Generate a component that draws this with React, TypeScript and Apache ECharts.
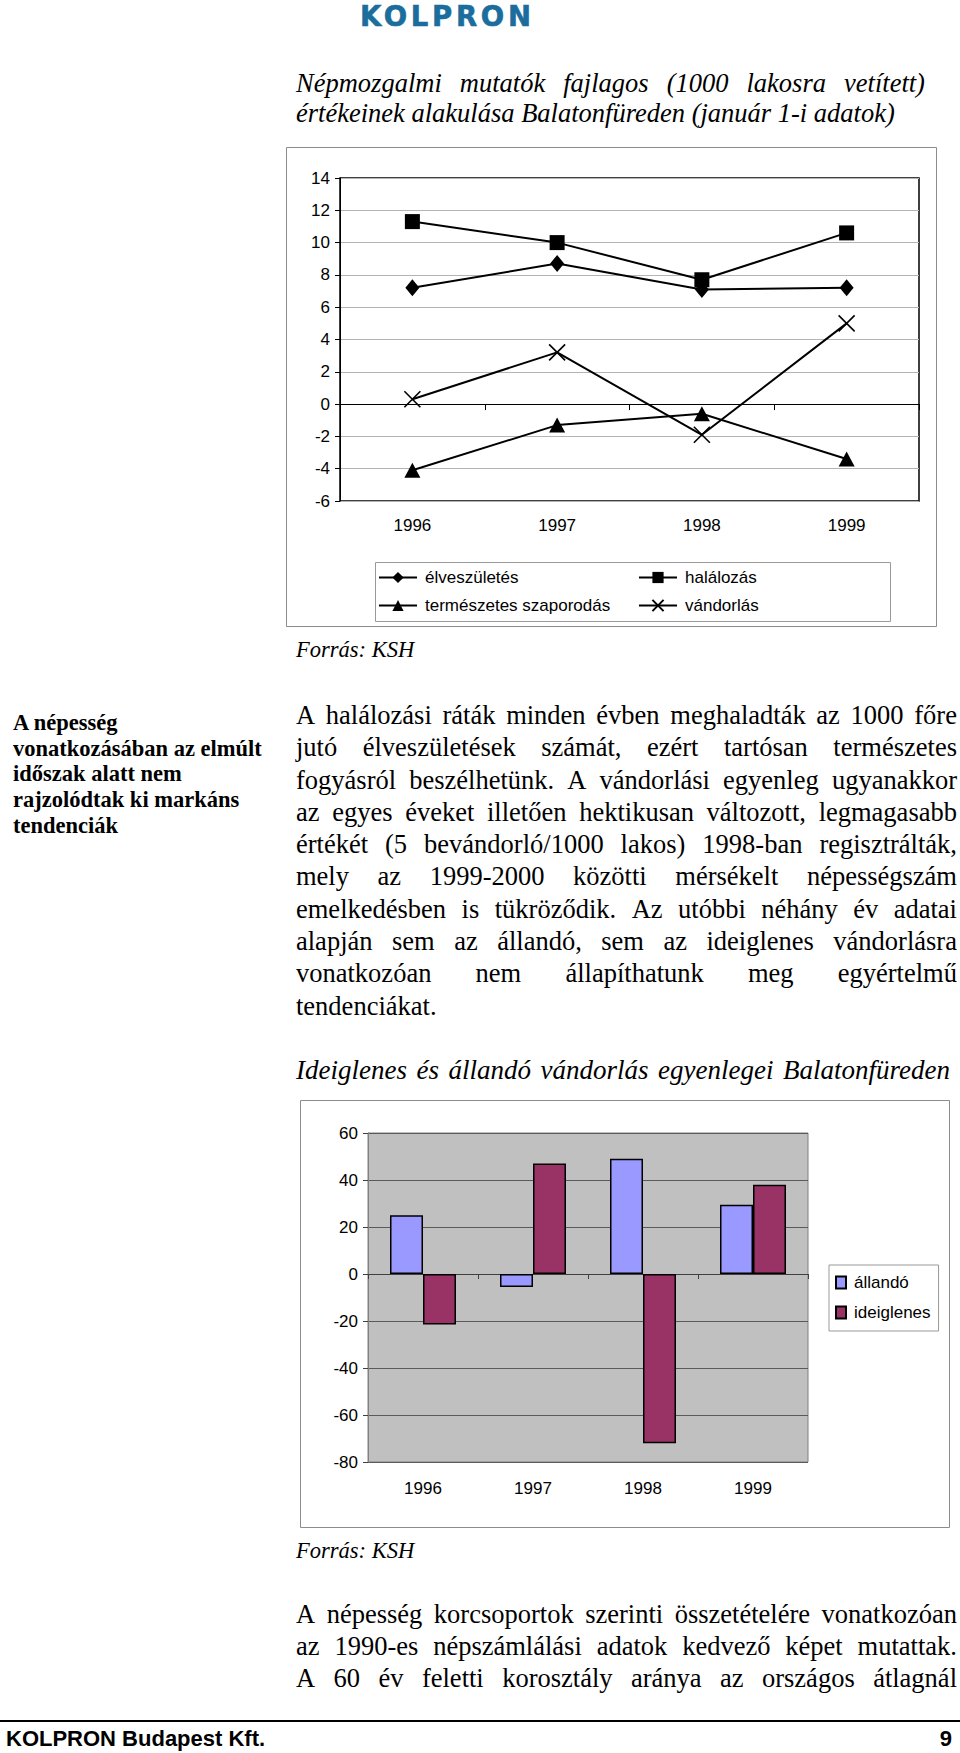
import React, { useEffect, useRef } from 'react';
import * as echarts from 'echarts';

// ---------- data ----------
const years = ['1996', '1997', '1998', '1999'];
const elveszuletes = [7.2, 8.7, 7.1, 7.2];
const halalozas = [11.3, 10.0, 7.7, 10.6];
const termeszetesSzaporodas = [-4.1, -1.3, -0.6, -3.4];
const vandorlas = [0.3, 3.2, -1.9, 5.0];
const lineYMin = -6;
const lineYMax = 14;
const lineYStep = 2;

const allando = [25, -5.5, 49, 29.5];
const ideiglenes = [-21.5, 47, -72, 38];
const barYMin = -80;
const barYMax = 60;
const barYStep = 20;

// ---------- texts ----------
const logoText = 'KOLPRON';
const title1Lines = [
  'Népmozgalmi mutatók fajlagos (1000 lakosra vetített)',
  'értékeinek alakulása Balatonfüreden (január 1-i adatok)',
];
const sourceText = 'Forrás: KSH';
const sideLines = [
  'A népesség',
  'vonatkozásában az elmúlt',
  'időszak alatt nem',
  'rajzolódtak ki markáns',
  'tendenciák',
];
const paraLines = [
  'A halálozási ráták minden évben meghaladták az 1000 főre',
  'jutó élveszületések számát, ezért tartósan természetes',
  'fogyásról beszélhetünk. A vándorlási egyenleg ugyanakkor',
  'az egyes éveket illetően hektikusan változott, legmagasabb',
  'értékét (5 bevándorló/1000 lakos) 1998-ban regisztrálták,',
  'mely az 1999-2000 közötti mérsékelt népességszám',
  'emelkedésben is tükröződik. Az utóbbi néhány év adatai',
  'alapján sem az állandó, sem az ideiglenes vándorlásra',
  'vonatkozóan nem állapíthatunk meg egyértelmű',
  'tendenciákat.',
];
const title2 = 'Ideiglenes és állandó vándorlás egyenlegei Balatonfüreden';
const bottomLines = [
  'A népesség korcsoportok szerinti összetételére vonatkozóan',
  'az 1990-es népszámlálási adatok kedvező képet mutattak.',
  'A 60 év feletti korosztály aránya az országos átlagnál',
];
const footerText = 'KOLPRON Budapest Kft.';
const pageNumber = '9';

const SERIF = '"Liberation Serif", "Times New Roman", serif';
const SANS = '"Liberation Sans", Arial, sans-serif';

function EChart({ option, style }: { option: any; style: React.CSSProperties }) {
  const ref = useRef<HTMLDivElement>(null);
  useEffect(() => {
    const chart = echarts.init(ref.current!, null, { renderer: 'svg' });
    chart.setOption(option);
    return () => chart.dispose();
  }, []);
  return <div ref={ref} style={style} />;
}

function TextBlock({
  lines, left, top, width, fontSize, lineHeight, justifyAll, justifyExceptLast, style,
}: any) {
  return (
    <div style={{ position: 'absolute', left, top, width, fontSize, lineHeight: lineHeight + 'px', fontFamily: SERIF, color: '#000', ...style }}>
      {lines.map((t: string, i: number) => {
        const j = justifyAll || (justifyExceptLast && i < lines.length - 1);
        if (!j) return <div key={i} style={{ height: lineHeight, whiteSpace: 'pre' }}>{t}</div>;
        return (
          <div key={i} style={{ height: lineHeight, display: 'flex', justifyContent: 'space-between', whiteSpace: 'pre' }}>
            {t.split(' ').map((w, k) => <span key={k}>{w}</span>)}
          </div>
        );
      })}
    </div>
  );
}

const axisFont = { fontSize: 17, color: '#000', fontFamily: SANS };

const C1W = 651, C1H = 480;
const lineOption = {
  animation: false,
  graphic: [
    { type: 'rect', shape: { x: 0.5, y: 0.5, width: C1W - 1, height: C1H - 1 }, style: { fill: 'none', stroke: '#8c8c8c', lineWidth: 1 } },
    { type: 'rect', shape: { x: 89.5, y: 415.5, width: 515, height: 59 }, style: { fill: 'none', stroke: '#999', lineWidth: 1 } },
  ],
  grid: { left: 54, right: 18, top: 31, bottom: 126, show: true, borderColor: '#000', borderWidth: 1.5, backgroundColor: '#fff' },
  xAxis: [
    {
      type: 'category', data: years, position: 'bottom',
      axisLine: { onZero: true, lineStyle: { color: '#000', width: 1 } },
      axisTick: { show: true, length: 6, lineStyle: { color: '#000' } },
      axisLabel: { show: false },
    },
    {
      type: 'category', data: years, position: 'bottom',
      axisLine: { show: false, onZero: false },
      axisTick: { show: false },
      axisLabel: { ...axisFont, margin: 16 },
    },
  ],
  yAxis: {
    type: 'value', min: lineYMin, max: lineYMax, interval: lineYStep,
    axisLine: { show: true, lineStyle: { color: '#000' } },
    axisTick: { show: true, length: 5, lineStyle: { color: '#000' } },
    axisLabel: { ...axisFont, margin: 10 },
    splitLine: { lineStyle: { color: '#b4b4b4', width: 1 } },
  },
  legend: [
    {
      data: ['élveszületés', 'természetes szaporodás'], orient: 'vertical', left: 92, top: 422,
      itemWidth: 38, itemHeight: 14, itemGap: 11, padding: 0, selectedMode: false,
      textStyle: { ...axisFont, padding: [0, 0, 0, 3] },
    },
    {
      data: ['halálozás', 'vándorlás'], orient: 'vertical', left: 352, top: 422,
      itemWidth: 38, itemHeight: 14, itemGap: 11, padding: 0, selectedMode: false,
      textStyle: { ...axisFont, padding: [0, 0, 0, 3] },
    },
  ],
  series: [
    {
      name: 'élveszületés', type: 'line', data: elveszuletes, symbol: 'diamond', symbolSize: [14, 17],
      lineStyle: { color: '#000', width: 2 }, itemStyle: { color: '#000' },
    },
    {
      name: 'halálozás', type: 'line', data: halalozas, symbol: 'rect', symbolSize: 15,
      lineStyle: { color: '#000', width: 2 }, itemStyle: { color: '#000' },
    },
    {
      name: 'természetes szaporodás', type: 'line', data: termeszetesSzaporodas, symbol: 'triangle', symbolSize: [16, 15],
      lineStyle: { color: '#000', width: 2 }, itemStyle: { color: '#000' },
    },
    {
      name: 'vándorlás', type: 'line', data: vandorlas, symbol: 'path://M0,0L10,10M0,10L10,0', symbolSize: 16,
      lineStyle: { color: '#000', width: 2 }, itemStyle: { color: '#000', borderColor: '#000', borderWidth: 1.6 },
    },
  ],
};

const C2W = 650, C2H = 428;
const barOption = {
  animation: false,
  graphic: [
    { type: 'rect', shape: { x: 0.5, y: 0.5, width: C2W - 1, height: C2H - 1 }, style: { fill: 'none', stroke: '#8c8c8c', lineWidth: 1 } },
  ],
  grid: { left: 68, right: 142, top: 33, bottom: 66, show: true, borderColor: '#808080', borderWidth: 1, backgroundColor: '#c0c0c0' },
  xAxis: [
    {
      type: 'category', data: years, position: 'bottom',
      axisLine: { onZero: true, lineStyle: { color: '#404040', width: 1 } },
      axisTick: { show: true, length: 5, lineStyle: { color: '#404040' } },
      axisLabel: { show: false },
    },
    {
      type: 'category', data: years, position: 'bottom',
      axisLine: { show: false, onZero: false },
      axisTick: { show: false },
      axisLabel: { ...axisFont, margin: 18 },
    },
  ],
  yAxis: {
    type: 'value', min: barYMin, max: barYMax, interval: barYStep,
    axisLine: { show: true, lineStyle: { color: '#808080' } },
    axisTick: { show: true, length: 5, lineStyle: { color: '#404040' } },
    axisLabel: { ...axisFont, margin: 10 },
    splitLine: { lineStyle: { color: '#5a5a5a', width: 1 } },
  },
  legend: {
    data: ['állandó', 'ideiglenes'], orient: 'vertical', left: 529, top: 165,
    icon: 'rect', itemWidth: 10, itemHeight: 12, itemGap: 13, selectedMode: false,
    padding: [9, 8, 10, 6], backgroundColor: '#fff', borderColor: '#999', borderWidth: 1,
    textStyle: { ...axisFont, padding: [0, 0, 0, 3] },
  },
  series: [
    {
      name: 'állandó', type: 'bar', data: allando, barWidth: 33, barGap: '0%',
      itemStyle: { color: '#9999ff', borderColor: '#000', borderWidth: 1.5 },
    },
    {
      name: 'ideiglenes', type: 'bar', data: ideiglenes, barWidth: 33, barGap: '0%',
      itemStyle: { color: '#993366', borderColor: '#000', borderWidth: 1.5 },
    },
  ],
};

export default function App() {
  return (
    <div style={{ position: 'absolute', left: 0, top: 0, width: 960, height: 1753, background: '#fff', overflow: 'hidden' }}>
      <div style={{ position: 'absolute', left: 360, top: 0, fontFamily: '"DejaVu Sans", sans-serif', fontWeight: 900, fontSize: 27.5, lineHeight: '33px', letterSpacing: 3.7, color: '#1a6d9c', whiteSpace: 'pre', WebkitTextStroke: '0.6px #1a6d9c' }}>
        {logoText}
      </div>

      <TextBlock lines={title1Lines} left={296} top={67.5} width={629} fontSize={26.5} lineHeight={30.2} justifyExceptLast style={{ fontStyle: 'italic' }} />

      <EChart option={lineOption} style={{ position: 'absolute', left: 286, top: 147, width: C1W, height: C1H }} />

      <TextBlock lines={[sourceText]} left={296} top={637} width={300} fontSize={22.5} lineHeight={26} style={{ fontStyle: 'italic' }} />

      <TextBlock lines={sideLines} left={13} top={710} width={275} fontSize={22.5} lineHeight={25.7} style={{ fontWeight: 'bold' }} />

      <TextBlock lines={paraLines} left={296} top={699} width={661} fontSize={26.5} lineHeight={32.3} justifyExceptLast />

      <TextBlock lines={[title2]} left={296} top={1055} width={654} fontSize={27} lineHeight={31} justifyAll style={{ fontStyle: 'italic' }} />

      <EChart option={barOption} style={{ position: 'absolute', left: 300, top: 1100, width: C2W, height: C2H }} />

      <TextBlock lines={[sourceText]} left={296} top={1538} width={300} fontSize={22.5} lineHeight={26} style={{ fontStyle: 'italic' }} />

      <TextBlock lines={bottomLines} left={296} top={1597.6} width={661} fontSize={26.5} lineHeight={32.4} justifyAll />

      <div style={{ position: 'absolute', left: 0, top: 1720, width: 960, height: 2, background: '#000' }} />
      <div style={{ position: 'absolute', left: 6, top: 1726, fontFamily: SANS, fontWeight: 'bold', fontSize: 22, lineHeight: '26px', color: '#000' }}>
        {footerText}
      </div>
      <div style={{ position: 'absolute', right: 8, top: 1726, fontFamily: SANS, fontWeight: 'bold', fontSize: 22, lineHeight: '26px', color: '#000' }}>
        {pageNumber}
      </div>
    </div>
  );
}
